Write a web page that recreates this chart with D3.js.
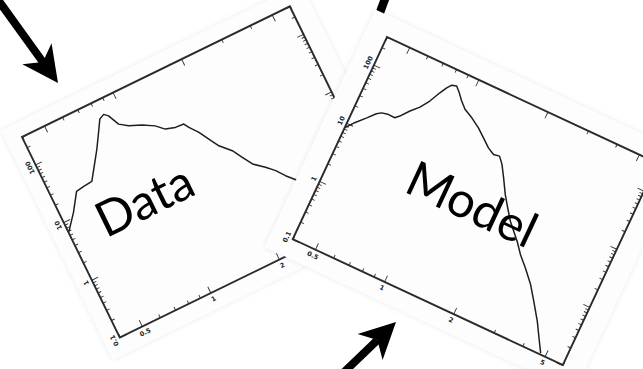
<!DOCTYPE html>
<html>
<head>
<meta charset="utf-8">
<script src="https://cdn.jsdelivr.net/npm/d3@7"></script>
<style>
  html, body { margin: 0; padding: 0; background: #fff; }
  svg { display: block; }
</style>
</head>
<body>
<script>
// ---- shared log-log frame ----
const xDomain = [0.4, 6];
const yDomain = [0.1, 300];
const xMajor = [0.5, 1, 2, 5];
const xMinor = [0.4, 0.6, 0.7, 0.8, 0.9, 3, 4, 6];
const yMajor = [0.1, 1, 10, 100];
const yMinor = [0.2, 0.3, 0.4, 0.5, 0.6, 0.7, 0.8, 0.9,
                2, 3, 4, 5, 6, 7, 8, 9,
                20, 30, 40, 50, 60, 70, 80, 90, 200, 300];

// ---- measured profile ----
const dataX = [0.403, 0.451, 0.503, 0.544, 0.593, 0.656, 0.702, 0.773, 0.811, 0.853,
               0.882, 0.927, 0.998, 1.118, 1.241, 1.33, 1.454, 1.58, 1.624, 1.729,
               1.824, 1.929, 2.11, 2.23, 2.36, 2.59, 2.78, 2.95, 3.21, 3.4];
const dataY = [6.8, 11.7, 22.0, 23.0, 23.9, 42.3, 62.2, 115, 157, 172,
               152, 99.3, 80.4, 66.7, 52.8, 40.6, 36.6, 35.7, 29.6, 21.5,
               14.8, 10.2, 7.03, 4.86, 3.34, 2.45, 1.87, 1.36, 0.944, 0.8];

// ---- model profile ----
const modelX = [0.402, 0.426, 0.462, 0.492, 0.512, 0.543, 0.582, 0.602, 0.642, 0.687,
                0.728, 0.766, 0.795, 0.820, 0.857, 0.899, 0.946, 1.004, 1.097, 1.204,
                1.304, 1.412, 1.510, 1.597, 1.682, 1.795, 1.941, 2.085, 2.242, 2.559,
                2.770, 3.037, 3.377, 3.699, 4.112, 4.444, 4.776];
const modelY = [8.45, 11.3, 15.9, 21.0, 23.4, 24.6, 24.4, 27.8, 38.2, 50.6,
                71.6, 109, 142, 167, 175, 146, 116, 93.1, 78.3, 62.5,
                48.8, 37.9, 33.0, 34.3, 27.2, 18.0, 10.7, 7.18, 4.86, 2.81,
                1.91, 1.33, 0.842, 0.511, 0.281, 0.168, 0.105];

const panelTitles = ["Data", "Model"];

// ---- page layout ----
const WIDTH = 643, HEIGHT = 369;
const W = 298, H = 223;

const svg = d3.select("body").append("svg")
  .attr("width", WIDTH).attr("height", HEIGHT)
  .attr("viewBox", `0 0 ${WIDTH} ${HEIGHT}`);

const defs = svg.append("defs");
defs.append("filter").attr("id", "soft")
  .attr("x", "-10%").attr("y", "-10%").attr("width", "120%").attr("height", "120%")
  .append("feDropShadow")
  .attr("dx", 0).attr("dy", 0).attr("stdDeviation", 2.5)
  .attr("flood-color", "#000").attr("flood-opacity", 0.10);
defs.append("clipPath").attr("id", "frameClip")
  .append("rect").attr("x", 0).attr("y", 0).attr("width", W).attr("height", H);

const x = d3.scaleLog().domain(xDomain).range([0, W]);
const y = d3.scaleLog().domain(yDomain).range([H, 0]);
const fmt = v => String(v);

function drawPanel(layer, cfg, xs, ys, title) {
  const g = layer.append("g")
    .attr("transform", `translate(${cfg.tx},${cfg.ty}) rotate(${cfg.angle})`);

  // sheet behind the plot
  g.append("rect")
    .attr("x", -cfg.ml).attr("y", -cfg.mt)
    .attr("width", W + cfg.ml + cfg.mr).attr("height", H + cfg.mt + cfg.mb)
    .attr("fill", "#fdfdfd")
    .attr("filter", "url(#soft)");

  const axisStyle = sel => {
    sel.select(".domain").remove();
    sel.selectAll("line").attr("stroke", "#333").attr("stroke-width", 0.9);
    sel.selectAll("text")
      .attr("font-family", "DejaVu Sans, sans-serif")
      .attr("font-size", 6.5).attr("font-weight", "bold").attr("fill", "#222");
  };

  // bottom
  g.append("g").attr("transform", `translate(0,${H})`)
    .call(d3.axisBottom(x).tickValues(xMajor).tickSize(-7).tickPadding(4).tickFormat(fmt))
    .call(axisStyle);
  g.append("g").attr("transform", `translate(0,${H})`)
    .call(d3.axisBottom(x).tickValues(xMinor).tickSize(-3.5).tickFormat(""))
    .call(axisStyle);
  // top
  g.append("g")
    .call(d3.axisTop(x).tickValues(xMajor).tickSize(-7).tickFormat(""))
    .call(axisStyle);
  g.append("g")
    .call(d3.axisTop(x).tickValues(xMinor).tickSize(-3.5).tickFormat(""))
    .call(axisStyle);
  // left, labels run along the axis
  const left = g.append("g")
    .call(d3.axisLeft(y).tickValues(yMajor).tickSize(-7).tickFormat(fmt))
    .call(axisStyle);
  left.selectAll("text")
    .attr("x", 0).attr("dy", 0)
    .attr("text-anchor", "middle")
    .attr("transform", "translate(-4,0) rotate(-90)");
  g.append("g")
    .call(d3.axisLeft(y).tickValues(yMinor).tickSize(-3.5).tickFormat(""))
    .call(axisStyle);
  // right
  g.append("g").attr("transform", `translate(${W},0)`)
    .call(d3.axisRight(y).tickValues(yMajor).tickSize(-7).tickFormat(""))
    .call(axisStyle);
  g.append("g").attr("transform", `translate(${W},0)`)
    .call(d3.axisRight(y).tickValues(yMinor).tickSize(-3.5).tickFormat(""))
    .call(axisStyle);

  // frame
  g.append("rect")
    .attr("width", W).attr("height", H)
    .attr("fill", "none").attr("stroke", "#2a2a2a").attr("stroke-width", 1.9);

  // profile
  const pts = xs.map((v, i) => [v, ys[i]]);
  g.append("path")
    .datum(pts)
    .attr("clip-path", "url(#frameClip)")
    .attr("fill", "none")
    .attr("stroke", "#1e1e1e")
    .attr("stroke-width", 1.5)
    .attr("stroke-linejoin", "round")
    .attr("d", d3.line().x(d => x(d[0])).y(d => y(d[1])));

  // panel title
  g.append("text")
    .attr("x", cfg.titleX).attr("y", cfg.titleY)
    .attr("font-family", "Lato, 'Open Sans', sans-serif")
    .attr("font-size", cfg.titleSize)
    .attr("fill", "#000")
    .text(title);
  return g;
}

function arrow(layer, x1, y1, x2, y2, head) {
  const dx = x2 - x1, dy = y2 - y1, L = Math.hypot(dx, dy);
  const ux = dx / L, uy = dy / L, px = -uy, py = ux;
  const bx = x2 - ux * head.len, by = y2 - uy * head.len;
  const nx = x2 - ux * head.len * 0.72, ny = y2 - uy * head.len * 0.72;
  layer.append("line")
    .attr("x1", x1).attr("y1", y1).attr("x2", nx).attr("y2", ny)
    .attr("stroke", "#000").attr("stroke-width", head.shaft);
  layer.append("path")
    .attr("d", `M${x2},${y2} L${bx + px * head.half},${by + py * head.half} ` +
               `L${nx},${ny} L${bx - px * head.half},${by - py * head.half} Z`)
    .attr("fill", "#000");
}

const dataPanel = {tx: 22, ty: 137, angle: -26, ml: 16, mt: 15, mr: 20, mb: 17,
                   titleX: 31, titleY: 128, titleSize: 49};
const modelPanel = {tx: 387, ty: 37, angle: 25, ml: 22, mt: 20, mr: 22, mb: 19,
                    titleX: 79, titleY: 133, titleSize: 49};

drawPanel(svg, dataPanel, dataX, dataY, panelTitles[0]);

// pointers
const arrows = svg.append("g");
arrow(arrows, -4, -3, 58, 83, {len: 36, half: 18, shaft: 8});
arrow(arrows, 338, 378, 396, 322, {len: 36, half: 18, shaft: 8});
arrows.append("line")
  .attr("x1", 392).attr("y1", -20).attr("x2", 372).attr("y2", 34)
  .attr("stroke", "#000").attr("stroke-width", 8.5);

drawPanel(svg, modelPanel, modelX, modelY, panelTitles[1]);
</script>
</body>
</html>
